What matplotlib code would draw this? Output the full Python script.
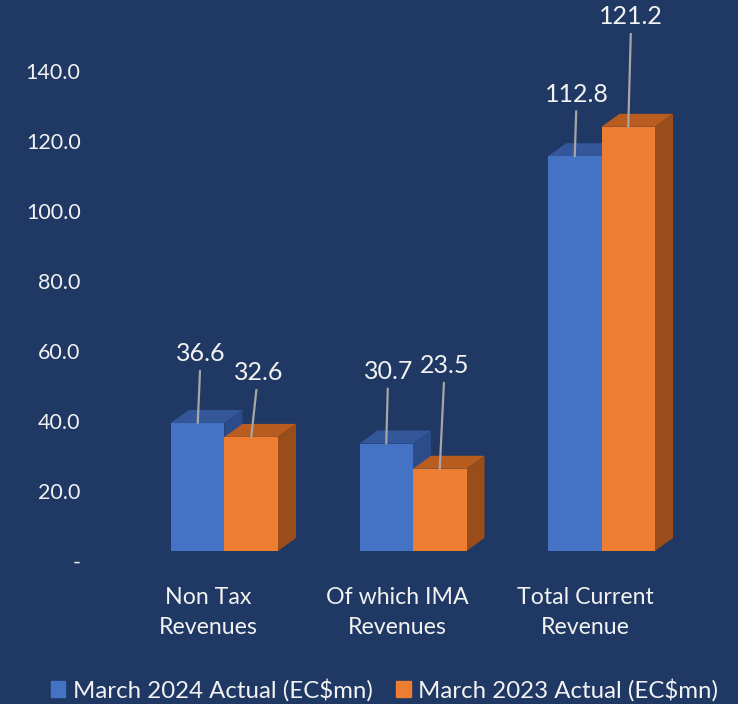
import matplotlib.pyplot as plt
import numpy as np
from matplotlib.transforms import ScaledTranslation
from matplotlib.patches import Patch

# data
categories = ["Non Tax\nRevenues", "Of which IMA\nRevenues", "Total Current\nRevenue"]
mar_2024 = [36.6, 30.7, 112.8]
mar_2023 = [32.6, 23.5, 121.2]
series_names = ["March 2024 Actual (EC$mn)", "March 2023 Actual (EC$mn)"]
yticks = [0, 20, 40, 60, 80, 100, 120, 140]
ytick_labels = ["-", "20.0", "40.0", "60.0", "80.0", "100.0", "120.0", "140.0"]

bg = "#1F3864"
txt = "#F2F2F2"
plt.rcParams['font.family'] = ['Lato', 'DejaVu Sans']

fig = plt.figure(figsize=(7.38, 7.04), dpi=100, facecolor=bg)
ax = fig.add_axes((100/738, 153/704, 620/738, 531/704))
ax.set_facecolor(bg)
for s in ax.spines.values():
    s.set_visible(False)

px_x = 188.5   # pixels per category
px_y = 3.5     # pixels per unit
w = 53.5 / px_x
dx = 18 / px_x
dy = 13 / px_y

ax.set_xlim(-124.5/px_x, 495.5/px_x)
ax.set_ylim(0, 531/px_y)

x = np.arange(len(categories))
colors = [("#4472C4", "#34579A", "#2B4C88"), ("#ED7D31", "#B95C1F", "#9A4D1B")]
# label offsets (pixels) from the top of each front face
label_off = [[(3, 69), (7, 64)], [(2, 72), (5, 103)], [(2, 62), (3, 110)]]

for si, vals in enumerate([mar_2024, mar_2023]):
    front, top, side = colors[si]
    x0 = x - w + si * w
    for i, v in enumerate(vals):
        l, r = x0[i], x0[i] + w
        ax.fill([l, r, r + dx, l + dx], [v, v, v + dy, v + dy], color=top, lw=0, zorder=2 + si)
        ax.fill([r, r + dx, r + dx, r], [0, dy, v + dy, v], color=side, lw=0, zorder=2 + si)
        ax.bar(l, v, width=w, align='edge', color=front, lw=0, zorder=2 + si)

# data labels with leader lines
for si, vals in enumerate([mar_2024, mar_2023]):
    x0 = x - w + si * w
    for i, v in enumerate(vals):
        xl = x0[i] + w / 2
        ox, oy = label_off[i][si]
        ax.annotate(f"{v:.1f}", xy=(xl, v), xytext=(ox, oy), textcoords='offset pixels',
                    ha='center', va='center', color=txt, fontsize=18, zorder=6,
                    arrowprops=dict(arrowstyle='-', color='#A6A6A6', lw=1.6,
                                    shrinkA=2, shrinkB=0))

ax.set_yticks(yticks)
ax.set_yticklabels(ytick_labels, color=txt, fontsize=15.5)
ax.tick_params(axis='y', length=0, pad=14)
for lab in ax.get_yticklabels():
    lab.set_transform(lab.get_transform() + ScaledTranslation(0, -10/100, fig.dpi_scale_trans))

ax.set_xticks(x - 16/px_x)
ax.set_xticklabels(categories, color=txt, fontsize=16.7, linespacing=1.5)
ax.tick_params(axis='x', length=0, pad=26)

handles = [Patch(color=colors[0][0]), Patch(color=colors[1][0])]
fig.legend(handles, series_names, loc='center', bbox_to_anchor=(0.521, 0.02), ncol=2,
           frameon=False, fontsize=17.3, labelcolor=txt, handlelength=0.6, handleheight=0.6,
           handletextpad=0.3, columnspacing=1.0)

fig.savefig("out.png", dpi=100, facecolor=bg)
